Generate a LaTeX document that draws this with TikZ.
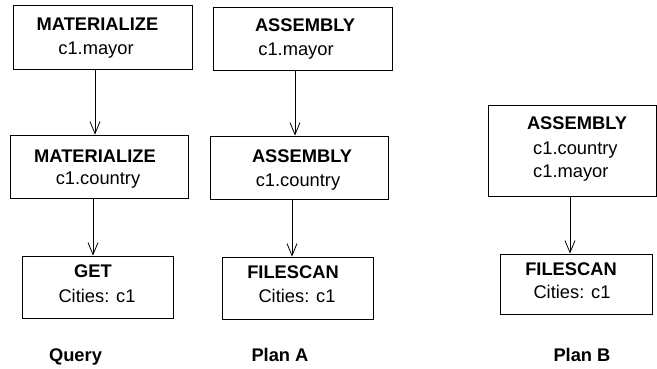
\documentclass[tikz,border=0pt]{standalone}
\usepackage{fontspec}
\setmainfont{Liberation Sans}
\usetikzlibrary{arrows.meta}
\begin{document}
\begin{tikzpicture}[x=1pt,y=-1pt,
  box/.style={draw,line width=0.8pt,inner sep=0pt,minimum width=#1},
  hd/.style={anchor=base,inner sep=0pt,font=\fontsize{18.3}{22}\selectfont\bfseries},
  tx/.style={anchor=base,inner sep=0pt,font=\fontsize{18.3}{22}\selectfont},
  arr/.style={line width=0.8pt,-{Straight Barb[length=12pt,width=10pt,line width=0.8pt]}}]
\useasboundingbox (0,0) rectangle (657,369);
% Query
\node[box=179pt,minimum height=64pt] (q1) at (102.5,37) {};
\node[box=178pt,minimum height=63pt] (q2) at (99,166.5) {};
\node[box=151pt,minimum height=62pt] (q3) at (97.5,287) {};
\node[hd] (q1h) at (97.5,31) {MATERIALIZE};
\node[tx] (q1a) at (96,55) {c1.mayor};
\node[hd] (q2h) at (95,162) {MATERIALIZE};
\node[tx] (q2a) at (98,185) {c1.country};
\node[hd] (q3h) at (93,277) {GET};
\node[tx] (q3a) at (97,302) {Cities: c1};
\node[hd] (ql) at (75.5,361) {Query};
\coordinate (qx1) at (95,0);
\coordinate (qx2) at (93,0);
\draw[arr] (q1.south -| qx1) -- (q2.north -| qx1);
\draw[arr] (q2.south -| qx2) -- (q3.north -| qx2);
% Plan A
\node[box=179pt,minimum height=63pt] (a1) at (302.5,38.5) {};
\node[box=178pt,minimum height=63pt] (a2) at (299,167.5) {};
\node[box=151pt,minimum height=62pt] (a3) at (297.5,288) {};
\node[hd] (a1h) at (305,32) {ASSEMBLY};
\node[tx] (a1a) at (296,56) {c1.mayor};
\node[hd] (a2h) at (302,162) {ASSEMBLY};
\node[tx] (a2a) at (298,186) {c1.country};
\node[hd] (a3h) at (293,278) {FILESCAN};
\node[tx] (a3a) at (297,302) {Cities: c1};
\node[hd] (al) at (280,361) {Plan A};
\coordinate (ax1) at (295,0);
\coordinate (ax2) at (292,0);
\draw[arr] (a1.south -| ax1) -- (a2.north -| ax1);
\draw[arr] (a2.south -| ax2) -- (a3.north -| ax2);
% Plan B
\node[box=168pt,minimum height=91pt] (b1) at (572,150.5) {};
\node[box=152pt,minimum height=60pt] (b2) at (576,284) {};
\node[hd] (b1h) at (577,129) {ASSEMBLY};
\node[tx,anchor=base west] (b1a) at (533,154) {c1.country};
\node[tx,anchor=base west] (b1b) at (533,178) {c1.mayor};
\node[hd] (b2h) at (571,275) {FILESCAN};
\node[tx] (b2a) at (572,298) {Cities: c1};
\node[hd] (bl) at (582,361) {Plan B};
\coordinate (bx1) at (570,0);
\draw[arr] (b1.south -| bx1) -- (b2.north -| bx1);
\end{tikzpicture}
\end{document}
